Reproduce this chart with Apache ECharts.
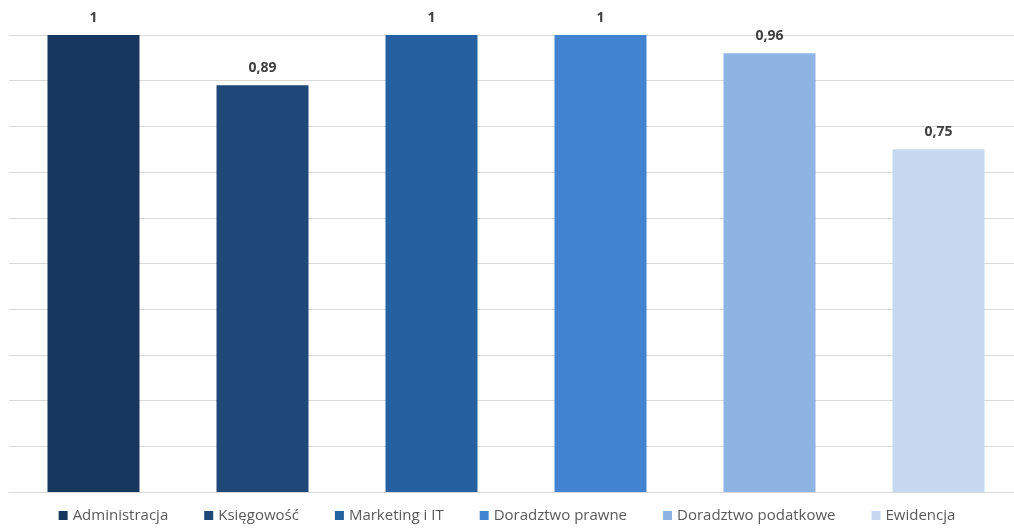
<!DOCTYPE html>
<html>
<head>
<meta charset="utf-8">
<script src="https://cdn.jsdelivr.net/npm/echarts@6/dist/echarts.min.js"></script>
<style>
html,body{margin:0;padding:0;background:#fff;}
#chart{width:1014px;height:531px;}
</style>
</head>
<body>
<div id="chart"></div>
<script>
const categories = ['Administracja', 'Księgowość', 'Marketing i IT', 'Doradztwo prawne', 'Doradztwo podatkowe', 'Ewidencja'];
const values = [1, 0.89, 1, 1, 0.96, 0.75];
const colors = ['#17375e', '#1f4777', '#2560a0', '#4283d1', '#8db4e2', '#c6d9f0'];

const chart = echarts.init(document.getElementById('chart'), null, {renderer: 'canvas'});
const series = categories.map((name, i) => ({
  name: name,
  type: 'bar',
  barWidth: 92,
  barGap: '-100%',
  itemStyle: {color: colors[i]},
  label: {
    show: true,
    position: 'top',
    distance: 10,
    color: '#404040',
    fontWeight: 'bold',
    fontSize: 14,
    fontFamily: 'Open Sans',
    formatter: p => String(p.value).replace('.', ',')
  },
  data: values.map((v, j) => j === i ? v : null)
}));

chart.setOption({
  animation: false,
  backgroundColor: '#ffffff',
  grid: {left: 9, top: 35, width: 1014, height: 457, containLabel: false, outerBoundsMode: 'none'},
  xAxis: {
    type: 'category',
    data: categories,
    axisLine: {show: true, lineStyle: {color: '#d9d9d9', width: 1}},
    axisTick: {show: false},
    axisLabel: {show: false},
    splitLine: {show: false}
  },
  yAxis: {
    type: 'value',
    min: 0,
    max: 1,
    interval: 0.1,
    axisLine: {show: false},
    axisTick: {show: false},
    axisLabel: {show: false},
    splitLine: {show: true, lineStyle: {color: '#d9d9d9', width: 1}}
  },
  legend: {
    bottom: 3,
    left: 'center',
    icon: 'rect',
    itemWidth: 9,
    itemHeight: 9,
    itemGap: 36,
    textStyle: {color: '#595959', fontSize: 15, fontFamily: 'Open Sans'},
    data: categories
  },
  series: series
});
</script>
</body>
</html>
